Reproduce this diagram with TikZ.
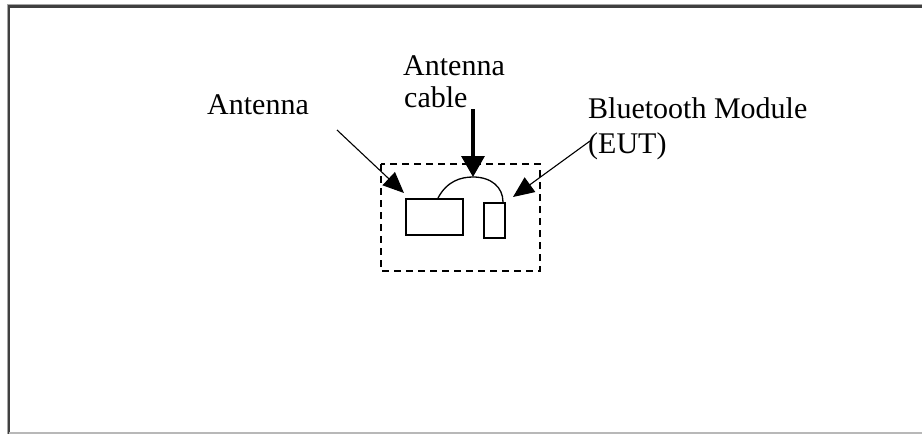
\documentclass[tikz,border=0pt]{standalone}
\usepackage{fontspec}
\setmainfont{Liberation Serif}
\usetikzlibrary{arrows.meta}
\begin{document}
\begin{tikzpicture}[x=1pt,y=-1pt,
  lbl/.style={anchor=base west,inner sep=0pt,font=\fontsize{30}{34}\selectfont},
  part/.style={draw,line width=1.5pt,inner sep=0pt,anchor=north west},
  ptr/.style={line width=1.1pt,-{Triangle[length=21pt,width=18pt]}},
  bigptr/.style={line width=3.2pt,-{Triangle[length=21pt,width=23pt]}},
  frameline/.style={draw=black!75,line width=2.2pt}]
\useasboundingbox (0,0) rectangle (922,434);
\fill[white] (0,0) rectangle (922,434);
% outer frame
\draw[black!35,line width=1pt] (7.5,434) -- (7.5,4.5) -- (922,4.5);
\draw[frameline] (9,434) -- (9,6.5) -- (922,6.5);
\draw[black!28,line width=1.5pt] (9,433) -- (922,433);
% dashed enclosure
\draw[line width=1.4pt,dash pattern=on 7pt off 5pt] (381,164) rectangle (540,271);
% parts
\node[part,minimum width=57pt,minimum height=36pt] (antbox) at (405,198) {};
\node[part,minimum width=21pt,minimum height=35pt] (mod) at (483,202) {};
\coordinate (cabA) at (438,198);
\coordinate (cabP) at (473,177);
\coordinate (cabB) at (503,202);
\draw[line width=1.3pt] (cabA) .. controls (447,181) and (461,177) .. (cabP)
  .. controls (491,177) and (503,187) .. (cabB);
% labels
\node[lbl] (antlbl) at (207,114) {Antenna};
\node[lbl] (cab1) at (403,75) {Antenna};
\node[lbl] (cab2) at (404,107) {cable};
\node[lbl] (bt1) at (588,118) {Bluetooth Module};
\node[lbl] (bt2) at (588,153) {(EUT)};
% pointers
\coordinate (antS) at (337,130);
\coordinate (antT) at (404,193);
\coordinate (cabS) at (473,109);
\coordinate (btS) at (590,141);
\coordinate (btT) at (513,197);
\draw[ptr] (antS) -- (antT);
\draw[bigptr] (cabS) -- (cabP);
\draw[ptr] (btS) -- (btT);
\end{tikzpicture}
\end{document}
